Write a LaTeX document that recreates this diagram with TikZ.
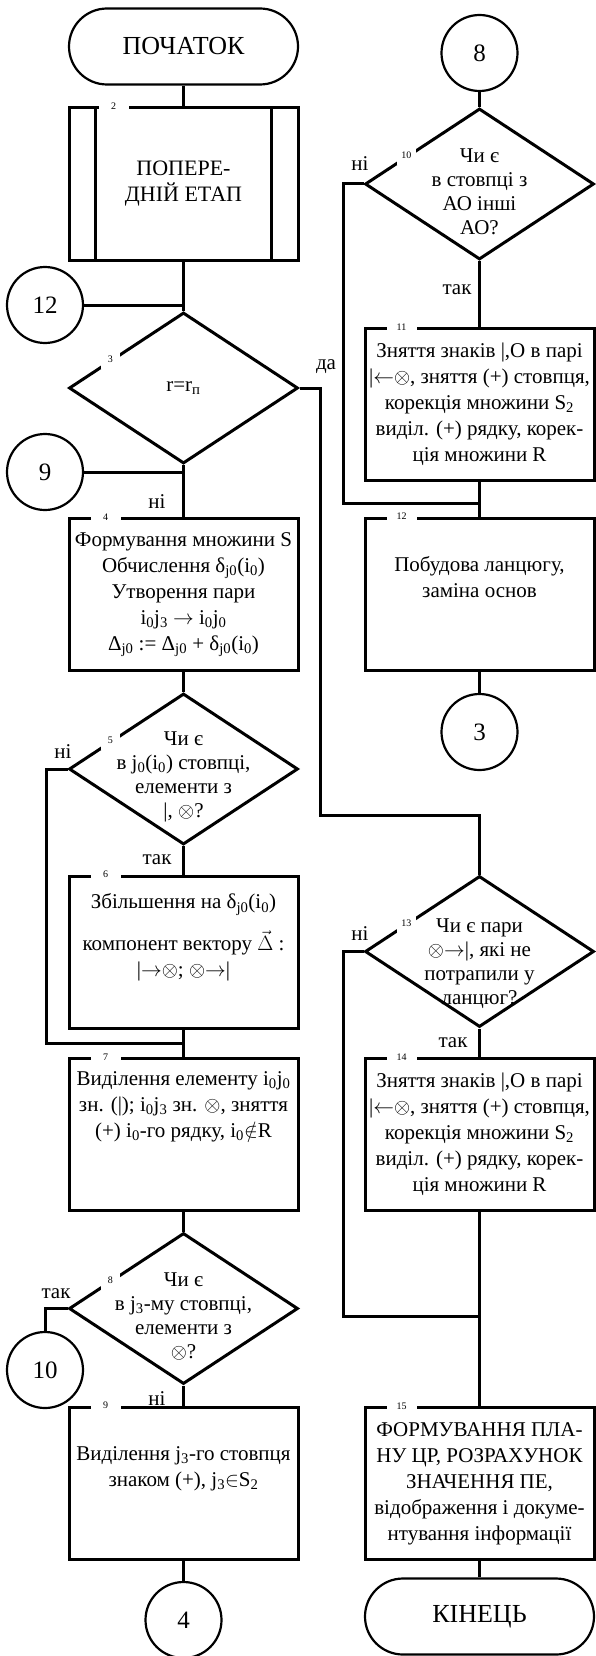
\documentclass[tikz,border=0pt]{standalone}
\usepackage{fontspec}
\setmainfont{Liberation Serif}
\usetikzlibrary{shapes.geometric,calc}

\tikzset{
  ln/.style={line width=3pt},
  blk/.style={draw, ln, minimum width=229pt, minimum height=152pt, inner sep=0pt,
    align=center, font=\fontsize{21}{26}\selectfont},
  term/.style={draw, line width=2.2pt, rounded corners=38pt, minimum width=229pt,
    minimum height=76pt, font=\fontsize{26}{30}\selectfont},
  dia/.style={draw, diamond, ln, minimum width=229pt, minimum height=151pt, inner sep=0pt},
  dtxt/.style={align=center, yshift=-8pt, font=\fontsize{21}{24}\selectfont},
  conn/.style={draw, circle, line width=2.2pt, minimum size=76pt, inner sep=0pt,
    font=\fontsize{25}{28}\selectfont},
  num/.style={fill=white, inner sep=0pt, minimum width=30pt, minimum height=12pt,
    font=\fontsize{10}{12}\selectfont},
  dnum/.style={fill=white, inner sep=0pt, minimum size=19pt,
    font=\fontsize{10}{12}\selectfont},
  lbl/.style={font=\fontsize{21}{24}\selectfont}
}

\begin{document}
\begin{tikzpicture}[x=1pt,y=-1pt]
\useasboundingbox (0,0) rectangle (596,1656);

\node[term] (start) at (183.5,46.5) {ПОЧАТОК};
\node[blk, font=\fontsize{22}{26}\selectfont] (p2) at (183.5,184) {ПОПЕРЕ-\\ДНІЙ ЕТАП};
\draw[ln] ([xshift=28pt]p2.north west) -- ([xshift=28pt]p2.south west);
\draw[ln] ([xshift=-28pt]p2.north east) -- ([xshift=-28pt]p2.south east);
\node[num] (n2) at ([xshift=46pt]p2.north west) {2};

\node[conn] (c12) at (45,305) {12};
\node[dia, label={[dtxt, yshift=8pt]center:{r=r\textsubscript{п}}}] (d3) at (183.5,388) {};
\node[conn] (c9) at (45,472) {9};

\node[blk] (b4) at (183.5,594.5) {Формування множини S\\
  Обчислення  δ\textsubscript{j0}(i\textsubscript{0})\\
  Утворення пари\\
  i\textsubscript{0}j\textsubscript{3} \(\rightarrow\) i\textsubscript{0}j\textsubscript{0}\\
  Δ\textsubscript{j0} := Δ\textsubscript{j0} + δ\textsubscript{j0}(i\textsubscript{0})};

\node[dia, label={[dtxt]center:{Чи є\\ в j\textsubscript{0}(i\textsubscript{0}) стовпці,\\ елементи з\\ |, \(\otimes\)?}}] (d5) at (183.5,769) {};

\node[blk] (b6) at (183.5,952) {Збільшення на  δ\textsubscript{j0}(i\textsubscript{0})\\[14pt]
  компонент вектору \(\vec{\Delta}\) :\\
  |\(\rightarrow\)\(\otimes\); \(\otimes\)\(\rightarrow\)|\\ \strut};

\node[blk] (b7) at (183.5,1134.5) {Виділення елементу i\textsubscript{0}j\textsubscript{0}\\
  зн. (|); i\textsubscript{0}j\textsubscript{3} зн. \(\otimes\), зняття\\
  (+) i\textsubscript{0}-го рядку, i\textsubscript{0}\(\notin\)R\\ \strut\\ \strut};

\node[dia, label={[dtxt]center:{Чи є\\ в j\textsubscript{3}-му стовпці,\\ елементи з\\ \(\otimes\)?}}] (d8) at (183.5,1308.5) {};
\node[conn] (c10) at (45,1370) {10};

\node[blk] (b9) at (183.5,1483) {Виділення j\textsubscript{3}-го стовпця\\
  знаком (+), j\textsubscript{3}\(\in\)S\textsubscript{2}\\ \strut};
\node[conn] (c4) at (183.5,1620) {4};

\node[conn] (c8) at (479.5,53) {8};
\node[dia, label={[dtxt]center:{Чи є\\ в стовпці з\\ АО інші\\ АО?}}] (d10) at (479.5,184) {};

\node[blk] (b11) at (479.5,404.5) {Зняття знаків |,О в парі\\
  |\(\leftarrow\)\(\otimes\), зняття (+) стовпця,\\
  корекція множини S\textsubscript{2}\\
  виділ. (+) рядку, корек-\\
  ція множини R};

\node[blk] (b12) at (479.5,594) {Побудова ланцюгу,\\ заміна основ\\ \strut};
\node[conn] (c3) at (479.5,732) {3};

\node[dia, label={[dtxt, yshift=-4pt]center:{Чи є пари\\ \(\otimes\)\(\rightarrow\)|, які не\\ потрапили у\\ ланцюг?}}] (d13) at (479.5,951.5) {};

\node[blk] (b14) at (479.5,1134.5) {Зняття знаків |,О в парі\\
  |\(\leftarrow\)\(\otimes\), зняття (+) стовпця,\\
  корекція множини S\textsubscript{2}\\
  виділ. (+) рядку, корек-\\
  ція множини R};

\node[blk] (b15) at (479.5,1483.5) {ФОРМУВАННЯ ПЛА-\\
  НУ ЦР, РОЗРАХУНОК\\
  ЗНАЧЕННЯ ПЕ,\\
  відображення і докуме-\\
  нтування інформації};

\node[term] (end) at (479.5,1616.5) {КІНЕЦЬ};

\coordinate (da) at (320,815);
\coordinate (l5) at (46,1043);
\coordinate (j7) at (183.5,1043);
\coordinate (l10) at (343,503);
\coordinate (j12) at (479.5,503);
\coordinate (l13) at (343,1316);
\coordinate (j15) at (479.5,1316);

\draw[ln] (start) -- (p2);
\draw[ln] (p2) -- (d3);
\draw[ln] (c12) -- (c12 -| p2);
\draw[ln] (d3) -- (b4);
\draw[ln] (c9) -- (c9 -| d3);
\draw[ln] (d3.east) -| (da) -| (d13.north);
\draw[ln] (b4) -- (d5);
\draw[ln] (d5) -- (b6);
\draw[ln] (d5.west) -| (l5) -- (j7);
\draw[ln] (b6) -- (b7);
\draw[ln] (b7) -- (d8);
\draw[ln] (d8.west) -| (c10.north);
\draw[ln] (d8) -- (b9);
\draw[ln] (b9) -- (c4);
\draw[ln] (c8) -- (d10);
\draw[ln] (d10) -- (b11);
\draw[ln] (d10.west) -| (l10) -- (j12);
\draw[ln] (b11) -- (b12);
\draw[ln] (b12) -- (c3);
\draw[ln] (d13) -- (b14);
\draw[ln] (d13.west) -| (l13) -- (j15);
\draw[ln] (b14) -- (b15);
\draw[ln] (b15) -- (end);

\node[dnum] (n3) at ($(d3.west)!0.37!(d3.north)$) {3};
\node[num] (n4) at ([xshift=38pt]b4.north west) {4};
\node[dnum] (n5) at ($(d5.west)!0.37!(d5.north)$) {5};
\node[num] (n6) at ([xshift=38pt]b6.north west) {6};
\node[num] (n7) at ([xshift=38pt]b7.north west) {7};
\node[dnum] (n8) at ($(d8.west)!0.37!(d8.north)$) {8};
\node[num] (n9) at ([xshift=38pt]b9.north west) {9};
\node[dnum] (n10) at ($(d10.west)!0.37!(d10.north)$) {10};
\node[num] (n11) at ([xshift=38pt]b11.north west) {11};
\node[num] (n12) at ([xshift=38pt]b12.north west) {12};
\node[dnum] (n13) at ($(d13.west)!0.37!(d13.north)$) {13};
\node[num] (n14) at ([xshift=38pt]b14.north west) {14};
\node[num] (n15) at ([xshift=38pt]b15.north west) {15};

\node[lbl] (no3) at (157,502) {ні};
\node[lbl] (yes3) at (326,367) {да};
\node[lbl] (yes5) at (157,860) {так};
\node[lbl] (no5) at (63,752) {ні};
\node[lbl] (yes8) at (56,1294) {так};
\node[lbl] (no8) at (157,1399) {ні};
\node[lbl] (no10) at (360,164) {ні};
\node[lbl] (yes10) at (457,290) {так};
\node[lbl] (no13) at (360,934) {ні};
\node[lbl] (yes13) at (453,1043) {так};
\end{tikzpicture}
\end{document}
